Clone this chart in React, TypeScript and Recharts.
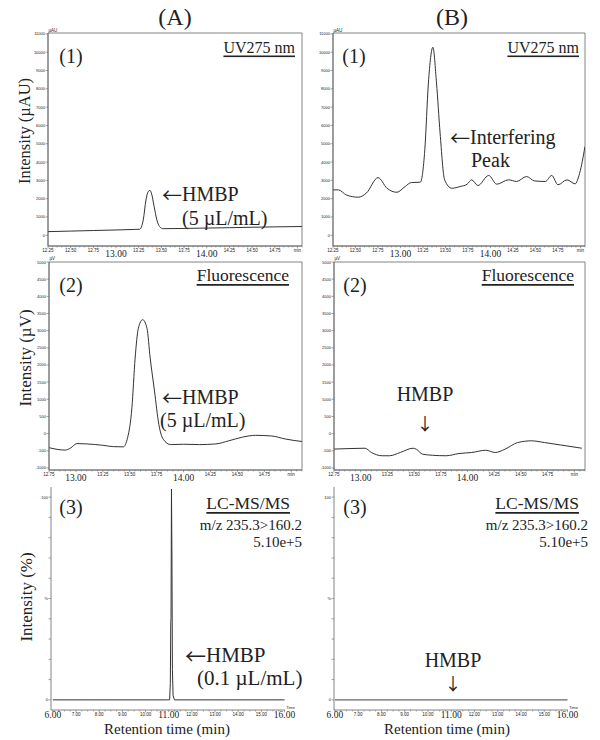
import React from "react";
import { LineChart, Line, XAxis, YAxis, ReferenceArea } from "recharts";

// (1) UV 275 nm
const uvATime = [12.25, 12.5, 12.75, 13.0, 13.2, 13.26, 13.3, 13.33, 13.355, 13.375, 13.39, 13.42, 13.45, 13.48, 13.52, 13.75, 14.0, 14.25, 14.5, 14.75, 15.05];
const uvAValue = [200, 230, 260, 290, 320, 330, 840, 1930, 2390, 2450, 2300, 1570, 840, 475, 360, 375, 395, 415, 440, 460, 480];
const uvBTime = [12.25, 12.31, 12.4, 12.53, 12.62, 12.75, 12.85, 12.96, 13.05, 13.12, 13.22, 13.27, 13.31, 13.36, 13.4, 13.44, 13.49, 13.57, 13.66, 13.74, 13.79, 13.86, 13.98, 14.07, 14.2, 14.29, 14.4, 14.49, 14.61, 14.68, 14.75, 14.85, 14.94, 14.99, 15.05];
const uvBValue = [2480, 2480, 2200, 2080, 2300, 3150, 2570, 2350, 2660, 2880, 2900, 4670, 8320, 10270, 8320, 5580, 3030, 2570, 2660, 2790, 3030, 2720, 3270, 2790, 3030, 2940, 3210, 2970, 2940, 3270, 2760, 3030, 2810, 3390, 4850];

// (2) Fluorescence
const flATime = [12.75, 12.9, 12.95, 13.01, 13.1, 13.25, 13.35, 13.44, 13.48, 13.52, 13.55, 13.58, 13.62, 13.66, 13.69, 13.73, 13.77, 13.81, 13.88, 14.0, 14.15, 14.3, 14.42, 14.55, 14.67, 14.82, 14.95, 15.1];
const flAValue = [-410, -480, -420, -290, -300, -340, -380, -385, -120, 750, 2200, 3070, 3320, 3070, 2200, 1240, 270, -160, -320, -310, -320, -300, -210, -100, -50, -70, -160, -230];
const flBTime = [12.75, 12.9, 13.04, 13.1, 13.2, 13.27, 13.37, 13.49, 13.52, 13.58, 13.67, 13.8, 13.92, 14.04, 14.17, 14.26, 14.35, 14.47, 14.6, 14.72, 14.87, 15.07];
const flBValue = [-450, -435, -425, -550, -645, -645, -550, -425, -455, -600, -630, -645, -580, -550, -485, -550, -455, -260, -210, -260, -330, -425];

// (3) LC-MS/MS, m/z 235.3>160.2
const msATime = [6, 10.9, 11.04, 11.07, 11.09, 11.1, 11.12, 11.14, 11.16, 11.19, 11.25, 16];
const msAValue = [0, 0, 0, 8, 38, 40, 104, 70, 15, 2, 0, 0];
const msBTime = [6, 16];
const msBValue = [0, 0];

const uvYTicks = [0, 1000, 2000, 3000, 4000, 5000, 6000, 7000, 8000, 9000, 10000, 11000];
const flYTicks = [-1000, -500, 0, 500, 1000, 1500, 2000, 2500, 3000, 3500, 4000, 4500, 5000];
const msYTicks = [0, 10, 20, 30, 40, 50, 60, 70, 80, 90, 100];
const msYLabels: Record<string, string> = { "0": "0", "50": "%", "100": "100" };

const uvXLabels = [12.25, 12.5, 12.75, 13.0, 13.25, 13.5, 13.75, 14.0, 14.25, 14.5, 14.75, 15.0];
const flXLabels = [12.75, 13.0, 13.25, 13.5, 13.75, 14.0, 14.25, 14.5, 14.75, 15.0];
const chromBig = [13, 14];
const msXLabels = [6, 7, 8, 9, 10, 11, 12, 13, 14, 15, 16];
const msBig = [6, 11, 16];

const INK = "#222";
const FRAME = "#666";
const TRACE = "#333";
const SERIF = "'Liberation Serif', 'Times New Roman', serif";
const SANS = "'Liberation Sans', Arial, sans-serif";
const ARROW = "'Noto Sans CJK JP', 'DejaVu Sans', sans-serif";

type Rect = { l: number; t: number; r: number; b: number };

function steps(from: number, to: number, step: number) {
  const out: number[] = [];
  const n = Math.round((to - from) / step);
  for (let i = 0; i <= n; i++) out.push(+(from + i * step).toFixed(3));
  return out;
}

const near = (list: number[], v: number) => list.some((l) => Math.abs(l - v) < 1e-6);

function makeXTick(labels: number[], big: number[], last: string, bigDy: number, tail?: string) {
  return (p: any) => {
    const v = Number(p.payload.value);
    const has = near(labels, v);
    const isBig = near(big, v);
    const isLast = Math.abs(v - labels[labels.length - 1]) < 1e-6;
    const txt = isLast && last ? last : v.toFixed(2);
    return (
      <g>
        <line x1={p.x} x2={p.x} y1={p.y} y2={p.y + (has ? 2.2 : 1.4)} stroke={FRAME} strokeWidth={0.6} />
        {has && !isBig && (
          <text x={p.x} y={p.y + 4} fontSize={4.5} fontFamily={SANS} textAnchor="middle" dominantBaseline="central" fill={INK}>
            {txt}
          </text>
        )}
        {isBig && (
          <text x={p.x} y={p.y + bigDy} fontSize={9.5} fontFamily={SERIF} textAnchor="middle" dominantBaseline="central" fill={INK}>
            {txt}
          </text>
        )}
        {isLast && tail && (
          <text x={p.x + 6} y={p.y - 3} fontSize={4} fontFamily={SANS} textAnchor="middle" dominantBaseline="central" fill={INK}>
            {tail}
          </text>
        )}
      </g>
    );
  };
}

function makeYTick(top: number, unit: string, labels?: Record<string, string>) {
  return (p: any) => {
    const v = Number(p.payload.value);
    const txt = labels ? labels[String(v)] : String(v);
    return (
      <g>
        <line x1={p.x - 2.5} x2={p.x} y1={p.y} y2={p.y} stroke={FRAME} strokeWidth={0.6} />
        {txt && (
          <text x={p.x - 3} y={p.y} fontSize={4} fontFamily={SANS} textAnchor="end" dominantBaseline="central" fill={INK}>
            {txt}
          </text>
        )}
        {unit && v === top && (
          <text x={p.x + 0.5} y={p.y - 2} fontSize={4.5} fontFamily={SANS} fill={INK}>
            {unit}
          </text>
        )}
      </g>
    );
  };
}

type PanelProps = {
  rect: Rect;
  time: number[];
  value: number[];
  xDomain: [number, number];
  yDomain: [number, number];
  xTicks: number[];
  yTicks: number[];
  xTick: (p: any) => React.ReactElement;
  yTick: (p: any) => React.ReactElement;
  frame: boolean;
  lineType: "monotone" | "linear";
  lineColor?: string;
  lineWidth?: number;
};

function Panel({ rect, time, value, xDomain, yDomain, xTicks, yTicks, xTick, yTick, frame, lineType, lineColor = TRACE, lineWidth = 1 }: PanelProps) {
  const data = time.map((t, i) => ({ t, v: value[i] }));
  const w = rect.r - rect.l;
  const h = rect.b - rect.t;
  return (
    <div style={{ position: "absolute", left: rect.l - 40, top: rect.t - 10 }}>
      <LineChart width={w + 60} height={h + 40} data={data} margin={{ top: 10, right: 20, bottom: 10, left: 0 }}>
        <XAxis
          dataKey="t"
          type="number"
          domain={xDomain}
          ticks={xTicks}
          interval={0}
          tick={xTick}
          tickSize={0}
          tickMargin={0}
          tickLine={false}
          height={20}
          axisLine={{ stroke: FRAME, strokeWidth: 0.8 }}
          allowDataOverflow
        />
        <YAxis
          type="number"
          domain={yDomain}
          ticks={yTicks}
          interval={0}
          tick={yTick}
          tickSize={0}
          tickMargin={0}
          tickLine={false}
          width={40}
          axisLine={{ stroke: FRAME, strokeWidth: 0.8 }}
          allowDataOverflow
        />
        {frame && (
          <ReferenceArea x1={xDomain[0]} x2={xDomain[1]} y1={yDomain[0]} y2={yDomain[1]} fill="none" stroke={FRAME} strokeWidth={0.8} fillOpacity={0} />
        )}
        <Line dataKey="v" type={lineType} stroke={lineColor} strokeWidth={lineWidth} dot={false} isAnimationActive={false} />
      </LineChart>
    </div>
  );
}

const T = (props: any) => (
  <text fontFamily={SERIF} fill={INK} dominantBaseline="central" {...props} />
);

const Arrow = ({ ch }: { ch: string }) => <tspan fontFamily={ARROW}>{ch}</tspan>;

export default function App() {
  const uvX = steps(12.25, 15.05, 0.05);
  const flX = steps(12.75, 15.1, 0.05);
  const msX = steps(6, 16, 0.25);
  const uvXT = makeXTick(uvXLabels, chromBig, "min", 8);
  const flXT = makeXTick(flXLabels, chromBig, "min", 7.5);
  const msXT = makeXTick(msXLabels, msBig, "", 5.2, "Time");
  const uvYT = makeYTick(11000, "µAU");
  const flYT = makeYTick(5000, "µV");
  const msYT = makeYTick(100, "", msYLabels);
  const uvDom: [number, number] = [-585, 11050];
  const flDom: [number, number] = [-1060, 5000];
  const msDom: [number, number] = [-5, 105];

  return (
    <div style={{ position: "absolute", left: 0, top: 0, width: 600, height: 740, background: "#fff" }}>
      <Panel rect={{ l: 48, t: 33, r: 302, b: 246 }} time={uvATime} value={uvAValue} xDomain={[12.25, 15.05]} yDomain={uvDom} xTicks={uvX} yTicks={uvYTicks} xTick={uvXT} yTick={uvYT} frame lineType="monotone" />
      <Panel rect={{ l: 333, t: 33, r: 585, b: 246 }} time={uvBTime} value={uvBValue} xDomain={[12.25, 15.05]} yDomain={uvDom} xTicks={uvX} yTicks={uvYTicks} xTick={uvXT} yTick={uvYT} frame lineType="monotone" />
      <Panel rect={{ l: 49, t: 262, r: 302, b: 470 }} time={flATime} value={flAValue} xDomain={[12.75, 15.1]} yDomain={flDom} xTicks={flX} yTicks={flYTicks} xTick={flXT} yTick={flYT} frame lineType="monotone" />
      <Panel rect={{ l: 334, t: 262, r: 585, b: 470 }} time={flBTime} value={flBValue} xDomain={[12.75, 15.1]} yDomain={flDom} xTicks={flX} yTicks={flYTicks} xTick={flXT} yTick={flYT} frame lineType="monotone" />
      <Panel rect={{ l: 51, t: 487, r: 285, b: 710 }} time={msATime} value={msAValue} xDomain={[5.92, 16.02]} yDomain={msDom} xTicks={msX} yTicks={msYTicks} xTick={msXT} yTick={msYT} frame={false} lineType="linear" />
      <Panel rect={{ l: 334, t: 487, r: 568, b: 710 }} time={msBTime} value={msBValue} xDomain={[5.96, 16.02]} yDomain={msDom} xTicks={msX} yTicks={msYTicks} xTick={msXT} yTick={msYT} frame={false} lineType="linear" lineColor="#666" lineWidth={1.4} />

      <svg width={600} height={740} style={{ position: "absolute", left: 0, top: 0, pointerEvents: "none" }}>
        <T x={175} y={17} fontSize={24} textAnchor="middle">(A)</T>
        <T x={452} y={17} fontSize={24} textAnchor="middle">(B)</T>

        <T x={24} y={131} fontSize={16.5} textAnchor="middle" transform="rotate(-90 24 131)">Intensity (µAU)</T>
        <T x={25} y={358} fontSize={17} textAnchor="middle" transform="rotate(-90 25 358)">Intensity (µV)</T>
        <T x={26} y={597} fontSize={17} textAnchor="middle" transform="rotate(-90 26 597)">Intensity (%)</T>

        <T x={71} y={56} fontSize={20} textAnchor="middle">(1)</T>
        <T x={295} y={47} fontSize={16} textAnchor="end" style={{ textDecoration: "underline" }}>UV275 nm</T>
        <T x={162} y={194} fontSize={20}><Arrow ch="←" />HMBP</T>
        <T x={182} y={218} fontSize={20}>(5 µL/mL)</T>

        <T x={354} y={56} fontSize={20} textAnchor="middle">(1)</T>
        <T x={579} y={47} fontSize={16} textAnchor="end" style={{ textDecoration: "underline" }}>UV275 nm</T>
        <T x={450} y={137} fontSize={20}><Arrow ch="←" />Interfering</T>
        <T x={471} y={160} fontSize={20}>Peak</T>

        <T x={71} y={285} fontSize={20} textAnchor="middle">(2)</T>
        <T x={289} y={275} fontSize={17.5} textAnchor="end" style={{ textDecoration: "underline" }}>Fluorescence</T>
        <T x={162} y={397} fontSize={20}><Arrow ch="←" />HMBP</T>
        <T x={160} y={420} fontSize={20}>(5 µL/mL)</T>

        <T x={355} y={285} fontSize={20} textAnchor="middle">(2)</T>
        <T x={574} y={275} fontSize={17.5} textAnchor="end" style={{ textDecoration: "underline" }}>Fluorescence</T>
        <T x={425} y={394} fontSize={20} textAnchor="middle">HMBP</T>
        <T x={425} y={422} fontSize={17} textAnchor="middle" fontFamily={ARROW}>↓</T>

        <T x={71} y={507} fontSize={20} textAnchor="middle">(3)</T>
        <T x={290} y={503} fontSize={17.5} textAnchor="end" style={{ textDecoration: "underline" }}>LC-MS/MS</T>
        <T x={302} y={525} fontSize={15} textAnchor="end">m/z 235.3&gt;160.2</T>
        <T x={302} y={542} fontSize={15} textAnchor="end">5.10e+5</T>
        <T x={185} y={655} fontSize={21}><Arrow ch="←" />HMBP</T>
        <T x={197} y={678} fontSize={21}>(0.1 µL/mL)</T>

        <T x={355} y={507} fontSize={20} textAnchor="middle">(3)</T>
        <T x={579} y={503} fontSize={17.5} textAnchor="end" style={{ textDecoration: "underline" }}>LC-MS/MS</T>
        <T x={588} y={525} fontSize={15} textAnchor="end">m/z 235.3&gt;160.2</T>
        <T x={588} y={542} fontSize={15} textAnchor="end">5.10e+5</T>
        <T x={453} y={660} fontSize={20} textAnchor="middle">HMBP</T>
        <T x={453} y={682} fontSize={17} textAnchor="middle" fontFamily={ARROW}>↓</T>

        <T x={167} y={729} fontSize={15} textAnchor="middle">Retention time (min)</T>
        <T x={447} y={729} fontSize={15} textAnchor="middle">Retention time (min)</T>
      </svg>
    </div>
  );
}
